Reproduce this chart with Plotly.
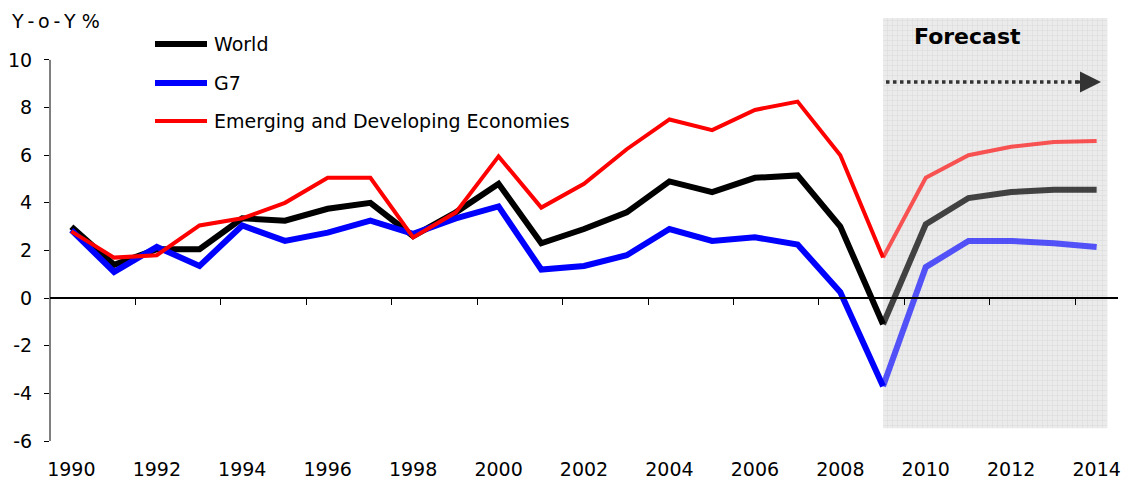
import plotly.graph_objects as go

years = list(range(1990, 2015))
world = [3.0, 1.4, 2.05, 2.05, 3.35, 3.25, 3.75, 4.0, 2.6, 3.6, 4.8, 2.3, 2.9, 3.6, 4.9, 4.45, 5.05, 5.15, 3.0, -1.1, 3.1, 4.2, 4.45, 4.55, 4.55]
g7 = [2.85, 1.1, 2.15, 1.35, 3.05, 2.4, 2.75, 3.25, 2.7, 3.35, 3.85, 1.2, 1.35, 1.8, 2.9, 2.4, 2.55, 2.25, 0.25, -3.7, 1.3, 2.4, 2.4, 2.3, 2.15]
emerging = [2.8, 1.7, 1.8, 3.05, 3.35, 4.0, 5.05, 5.05, 2.55, 3.6, 5.95, 3.8, 4.8, 6.25, 7.5, 7.05, 7.9, 8.25, 6.0, 1.7, 5.05, 6.0, 6.35, 6.55, 6.6]
forecast_start = 2009
xlabels = list(range(1990, 2015, 2))
yticks = list(range(-6, 11, 2))
between_ticks = [y + 0.5 for y in range(1991, 2014, 2)]

series = [
    ("World", world, "#000000", "rgba(0,0,0,0.72)", 6),
    ("G7", g7, "#0000ff", "rgba(0,0,255,0.65)", 6),
    ("Emerging and Developing Economies", emerging, "#ff0000", "rgba(255,0,0,0.65)", 4),
]

FONT = "DejaVu Sans, sans-serif"
W, H = 1125, 482
ML, MR, MT, MB = 50, 7, 18, 41
YMIN, YMAX = -6, 11.76


def pxx(p):  # pixel x -> paper
    return (p - ML) / (W - ML - MR)


def pxy(p):  # pixel y -> paper
    return (H - MB - p) / (H - MB - MT)


fig = go.Figure()

# forecast shaded region (patterned)
fc_left, fc_right, fc_bottom = forecast_start, 2014.25, -5.46
fig.add_trace(go.Bar(
    x=[(fc_left + fc_right) / 2], y=[YMAX - fc_bottom], base=[fc_bottom], width=[fc_right - fc_left],
    marker=dict(color="#e9e9e9", line=dict(width=0),
                pattern=dict(shape="+", size=5, solidity=0.18, fgcolor="#c6c6c6", bgcolor="#ebebeb")),
    hoverinfo="skip", showlegend=False,
))

i0 = years.index(forecast_start)
for name, vals, col, fcol, w in series:
    fig.add_trace(go.Scatter(x=years[:i0 + 1], y=vals[:i0 + 1], mode="lines",
                             line=dict(color=col, width=w), name=name, showlegend=False))
    fig.add_trace(go.Scatter(x=years[i0:], y=vals[i0:], mode="lines",
                             line=dict(color=fcol, width=w), name=name + " (forecast)", showlegend=False))

# y axis line (only from -6 to 10)
fig.add_shape(type="line", xref="paper", yref="y", x0=0, x1=0, y0=-6, y1=10,
              line=dict(color="#000", width=1))

# manual legend
leg_y = [44, 83, 121]
for (name, vals, col, fcol, w), ly in zip(series, leg_y):
    fig.add_shape(type="line", xref="paper", yref="paper", x0=pxx(155), x1=pxx(207), y0=pxy(ly), y1=pxy(ly),
                  line=dict(color=col, width=w))
    fig.add_annotation(xref="paper", yref="paper", x=pxx(212), y=pxy(ly), text=name, showarrow=False,
                       xanchor="left", yanchor="middle", font=dict(family=FONT, size=19, color="#000"))

# forecast label and arrow
fig.add_annotation(xref="paper", yref="paper", x=pxx(967), y=pxy(37), text="<b>Forecast</b>",
                   showarrow=False, xanchor="center", yanchor="middle",
                   font=dict(family=FONT, size=22, color="#000"))
fig.add_shape(type="line", xref="paper", yref="paper", x0=pxx(886), x1=pxx(1082), y0=pxy(82), y1=pxy(82),
              line=dict(color="#333333", width=3.5, dash="dot"))
fig.add_annotation(xref="paper", yref="paper", x=pxx(1101), y=pxy(82), ax=-26, ay=0, text="", showarrow=True,
                   arrowhead=2, arrowsize=1.4, arrowwidth=3, arrowcolor="#333333")

fig.add_annotation(xref="paper", yref="paper", x=pxx(9), y=pxy(21),
                   text="Y\u2009-\u2009o\u2009-\u2009Y %", showarrow=False,
                   xanchor="left", yanchor="middle", font=dict(family=FONT, size=19, color="#000"))

fig.update_layout(
    width=W, height=H, margin=dict(l=ML, r=MR, t=MT, b=MB, autoexpand=False),
    paper_bgcolor="white", plot_bgcolor="white", showlegend=False,
    font=dict(family=FONT, size=19, color="#000"),
    xaxis=dict(range=[1989.5, 2014.5], tickvals=xlabels, ticktext=[str(v) for v in xlabels],
               showgrid=False, zeroline=False, showline=False, ticks="", ticklabelstandoff=15,
               automargin=False, tickfont=dict(family=FONT, size=19)),
    xaxis2=dict(range=[1989.5, 2014.5], overlaying="x", anchor="free", position=(0 - YMIN) / (YMAX - YMIN),
                side="bottom", showline=True, linecolor="#000", linewidth=1.5, ticks="outside", ticklen=6,
                tickwidth=1, tickcolor="#000", tickvals=between_ticks, showticklabels=False, showgrid=False,
                zeroline=False, automargin=False),
    yaxis=dict(range=[YMIN, YMAX], tickvals=yticks, ticktext=[str(v) for v in yticks],
               showgrid=False, zeroline=False, showline=False, automargin=False,
               ticks="outside", ticklen=5, tickcolor="#000", ticklabelstandoff=8,
               tickfont=dict(family=FONT, size=19)),
)
# dummy trace so xaxis2 is drawn
fig.add_trace(go.Scatter(x=[1989.5], y=[0], xaxis="x2", mode="markers", marker=dict(opacity=0),
                         hoverinfo="skip", showlegend=False))

fig.write_html("out.html", config={"displayModeBar": False},
               post_script="document.body.style.margin='0';")
